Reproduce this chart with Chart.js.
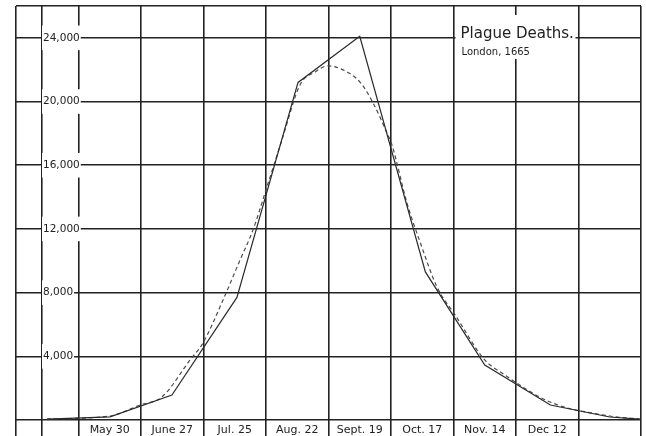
<!DOCTYPE html>
<html>
<head>
<meta charset="utf-8">
<script src="https://cdn.jsdelivr.net/npm/chart.js@4.4.1/dist/chart.umd.min.js"></script>
<style>
  body { margin: 0; background: #fff; }
  canvas { display: block; }
</style>
</head>
<body>
<canvas id="plague" width="646" height="436"></canvas>
<script>
// weeks counted from the left edge of the grid, one grid cell = 4 weeks
const periodLabels = ['May 30', 'June 27', 'Jul. 25', 'Aug. 22', 'Sept. 19', 'Oct. 17', 'Nov. 14', 'Dec 12'];
const periodLabelWeeks = [6, 10, 14, 18, 22, 26, 30, 34];
const gridWeeks = [0, 1.66, 4, 8, 12, 16, 20, 24, 28, 32, 36, 40];
const yTicks = [4000, 8000, 12000, 16000, 20000, 24000];

// recorded deaths (solid line)
const actualWeeks = [1.98, 6.02, 9.98, 14.14, 18.05, 22.0, 26.2, 30.0, 34.2, 38.0, 39.9];
const actualDeaths = [60, 200, 1570, 7700, 21200, 24100, 9300, 3450, 940, 190, 60];

// smoothed curve (dashed line)
const curveWeeks = [1.98, 6.0, 7.94, 9.34, 11.14, 11.97, 13.25, 14.34, 15.17, 16.06, 17.02, 18.18, 19.14, 19.97,
  20.93, 22.0, 22.85, 23.74, 24.06, 25.02, 25.86, 26.94, 28.1, 30.0, 31.1, 34.18, 38.0, 39.94];
const curveDeaths = [60, 250, 940, 1450, 3770, 4840, 7540, 10050, 11940, 14640, 17590, 21050, 21860, 22240,
  21990, 21240, 19920, 18030, 17280, 13630, 11180, 8360, 6600, 3770, 2950, 1130, 250, 60];

const ink = '#222';
const tickList = gridWeeks.concat(periodLabelWeeks).sort((a, b) => a - b);
const isLabelTick = (tick) => tick && periodLabelWeeks.includes(tick.value);

Chart.defaults.font.family = '"DejaVu Sans", sans-serif';

// white box with the title, sitting inside the grid
const titleBox = {
  id: 'titleBox',
  beforeDatasetsDraw(chart) {
    const { ctx, scales: { x } } = chart;
    const left = x.getPixelForValue(28) + 2;
    ctx.save();
    ctx.fillStyle = '#fff';
    ctx.fillRect(left, 15, 120, 44);
    ctx.fillStyle = ink;
    ctx.textBaseline = 'alphabetic';
    ctx.font = '15px "DejaVu Sans"';
    ctx.fillText('Plague Deaths.', left + 5, 38);
    ctx.font = '10px "DejaVu Sans"';
    ctx.fillText('London, 1665', left + 6, 55);
    ctx.restore();
  }
};

new Chart(document.getElementById('plague'), {
  type: 'line',
  data: {
    datasets: [
      {
        label: 'Deaths',
        data: actualWeeks.map((w, i) => ({ x: w, y: actualDeaths[i] })),
        borderColor: '#2a2a2a',
        borderWidth: 1.2,
        pointRadius: 0,
        tension: 0
      },
      {
        label: 'Curve',
        data: curveWeeks.map((w, i) => ({ x: w, y: curveDeaths[i] })),
        borderColor: '#4a4a4a',
        borderWidth: 1.2,
        borderDash: [4, 3],
        pointRadius: 0,
        cubicInterpolationMode: 'monotone'
      }
    ]
  },
  options: {
    responsive: false,
    animation: false,
    layout: { padding: { left: 16, right: 5, top: 6, bottom: 0 } },
    plugins: { legend: { display: false }, tooltip: { enabled: false } },
    scales: {
      x: {
        type: 'linear',
        min: 0,
        max: 40,
        afterBuildTicks: (s) => { s.ticks = tickList.map(v => ({ value: v })); },
        afterFit: (s) => { s.height = 16; s.paddingLeft = 0; s.paddingRight = 0; },
        ticks: {
          autoSkip: false,
          maxRotation: 0,
          padding: -12,
          color: ink,
          font: { size: 11 },
          callback: (v) => {
            const i = periodLabelWeeks.indexOf(v);
            return i < 0 ? '' : periodLabels[i];
          }
        },
        grid: {
          color: (c) => isLabelTick(c.tick) ? 'rgba(0,0,0,0)' : ink,
          tickColor: (c) => isLabelTick(c.tick) ? 'rgba(0,0,0,0)' : ink,
          lineWidth: 1.6,
          tickLength: 16
        },
        border: { display: false }
      },
      y: {
        min: 0,
        max: 26000,
        afterBuildTicks: (s) => { s.ticks = [0].concat(yTicks, [26000]).map(v => ({ value: v })); },
        afterFit: (s) => { s.width = 0; s.paddingTop = 0; s.paddingBottom = 0; },
        ticks: {
          mirror: true,
          crossAlign: 'near',
          padding: 27,
          color: ink,
          font: { size: 10.5 },
          callback: (v) => yTicks.includes(v) ? v.toLocaleString('en-US') : '',
          showLabelBackdrop: (c) => yTicks.includes(c.tick.value),
          backdropColor: '#fff',
          backdropPadding: { top: 6, bottom: 6, left: 1, right: 1 }
        },
        grid: { color: ink, lineWidth: 1.6, drawTicks: false },
        border: { display: false }
      }
    }
  },
  plugins: [titleBox]
});
</script>
</body>
</html>
